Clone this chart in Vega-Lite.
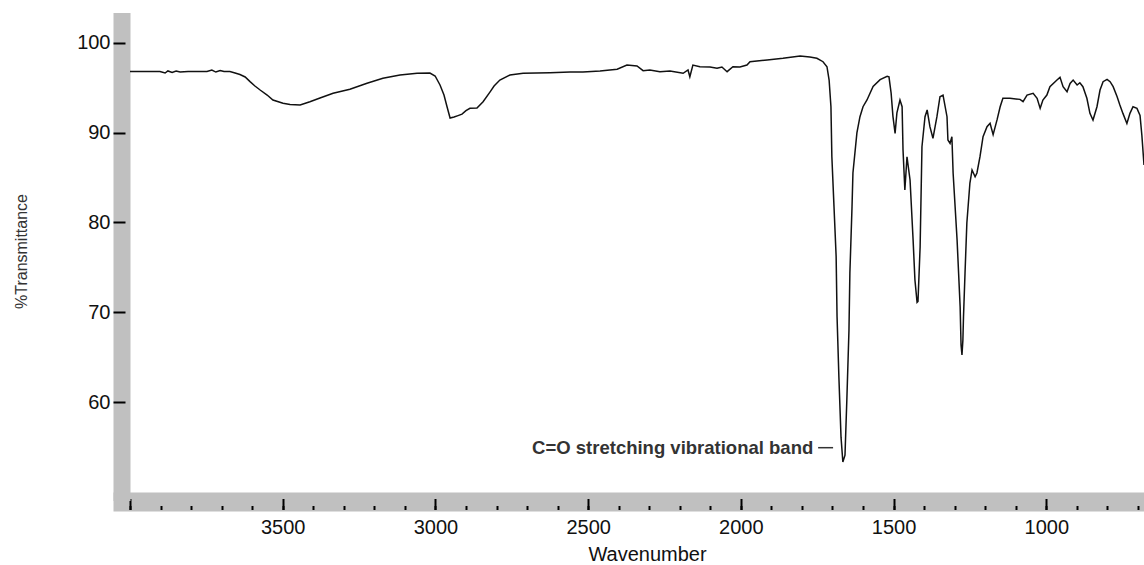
{
  "$schema": "https://vega.github.io/schema/vega-lite/v6.json",
  "width": 1031,
  "height": 471,
  "autosize": {"type": "none"},
  "padding": {"left": 113, "top": 21, "right": 0, "bottom": 73},
  "background": "white",
  "config": {"view": {"stroke": null}},
  "datasets": {
    "spectrum": [
      {"w": 4000, "t": 96.79}, {"w": 3951, "t": 96.8}, {"w": 3902, "t": 96.8}, {"w": 3885, "t": 96.62},
      {"w": 3876, "t": 96.85}, {"w": 3862, "t": 96.68}, {"w": 3849, "t": 96.85}, {"w": 3836, "t": 96.73},
      {"w": 3810, "t": 96.79}, {"w": 3771, "t": 96.79}, {"w": 3748, "t": 96.79}, {"w": 3732, "t": 96.96},
      {"w": 3719, "t": 96.73}, {"w": 3705, "t": 96.9}, {"w": 3692, "t": 96.79}, {"w": 3673, "t": 96.79},
      {"w": 3656, "t": 96.62}, {"w": 3640, "t": 96.45}, {"w": 3623, "t": 96.18}, {"w": 3607, "t": 95.66},
      {"w": 3591, "t": 95.18}, {"w": 3574, "t": 94.73}, {"w": 3551, "t": 94.17}, {"w": 3532, "t": 93.62},
      {"w": 3499, "t": 93.25}, {"w": 3476, "t": 93.12}, {"w": 3443, "t": 93.06}, {"w": 3411, "t": 93.43},
      {"w": 3378, "t": 93.84}, {"w": 3335, "t": 94.36}, {"w": 3280, "t": 94.81}, {"w": 3224, "t": 95.48},
      {"w": 3172, "t": 96.03}, {"w": 3116, "t": 96.4}, {"w": 3060, "t": 96.59}, {"w": 3018, "t": 96.62},
      {"w": 3001, "t": 96.29}, {"w": 2985, "t": 95.29}, {"w": 2972, "t": 94.17}, {"w": 2962, "t": 92.87},
      {"w": 2952, "t": 91.61}, {"w": 2939, "t": 91.72}, {"w": 2926, "t": 91.88}, {"w": 2913, "t": 92.05},
      {"w": 2900, "t": 92.44}, {"w": 2887, "t": 92.69}, {"w": 2864, "t": 92.72}, {"w": 2844, "t": 93.42},
      {"w": 2821, "t": 94.53}, {"w": 2808, "t": 95.18}, {"w": 2789, "t": 95.84}, {"w": 2756, "t": 96.4},
      {"w": 2713, "t": 96.59}, {"w": 2625, "t": 96.66}, {"w": 2559, "t": 96.73}, {"w": 2517, "t": 96.73},
      {"w": 2461, "t": 96.85}, {"w": 2405, "t": 97.04}, {"w": 2373, "t": 97.51}, {"w": 2340, "t": 97.4},
      {"w": 2320, "t": 96.88}, {"w": 2298, "t": 96.96}, {"w": 2265, "t": 96.77}, {"w": 2232, "t": 96.85},
      {"w": 2189, "t": 96.59}, {"w": 2173, "t": 96.96}, {"w": 2167, "t": 96.21}, {"w": 2157, "t": 97.51},
      {"w": 2134, "t": 97.32}, {"w": 2101, "t": 97.29}, {"w": 2078, "t": 97.15}, {"w": 2062, "t": 97.29},
      {"w": 2045, "t": 96.77}, {"w": 2026, "t": 97.32}, {"w": 2003, "t": 97.29}, {"w": 1980, "t": 97.51},
      {"w": 1970, "t": 97.88}, {"w": 1914, "t": 98.07}, {"w": 1862, "t": 98.26}, {"w": 1806, "t": 98.52},
      {"w": 1774, "t": 98.4}, {"w": 1751, "t": 98.26}, {"w": 1731, "t": 97.88}, {"w": 1718, "t": 97.32},
      {"w": 1711, "t": 95.84}, {"w": 1705, "t": 92.87}, {"w": 1702, "t": 87.31}, {"w": 1695, "t": 81.75},
      {"w": 1688, "t": 76.19}, {"w": 1685, "t": 69.51}, {"w": 1679, "t": 62.8}, {"w": 1672, "t": 56.1},
      {"w": 1666, "t": 53.34}, {"w": 1659, "t": 54.1}, {"w": 1653, "t": 60.2}, {"w": 1646, "t": 68.0},
      {"w": 1643, "t": 74.37}, {"w": 1636, "t": 81.75}, {"w": 1633, "t": 85.5}, {"w": 1620, "t": 89.95},
      {"w": 1610, "t": 91.76}, {"w": 1600, "t": 92.87}, {"w": 1587, "t": 93.62}, {"w": 1567, "t": 95.12},
      {"w": 1544, "t": 95.88}, {"w": 1521, "t": 96.25}, {"w": 1515, "t": 96.2}, {"w": 1508, "t": 94.4},
      {"w": 1502, "t": 91.8}, {"w": 1495, "t": 89.91}, {"w": 1489, "t": 92.2}, {"w": 1479, "t": 93.62},
      {"w": 1472, "t": 92.87}, {"w": 1469, "t": 88.06}, {"w": 1463, "t": 83.6}, {"w": 1456, "t": 87.3},
      {"w": 1446, "t": 84.72}, {"w": 1436, "t": 78.04}, {"w": 1430, "t": 73.59}, {"w": 1423, "t": 71.1},
      {"w": 1420, "t": 71.2}, {"w": 1413, "t": 77.3}, {"w": 1407, "t": 88.42}, {"w": 1397, "t": 91.76},
      {"w": 1390, "t": 92.51}, {"w": 1381, "t": 90.65}, {"w": 1371, "t": 89.36}, {"w": 1358, "t": 91.76},
      {"w": 1348, "t": 93.98}, {"w": 1338, "t": 94.16}, {"w": 1325, "t": 91.76}, {"w": 1322, "t": 89.17},
      {"w": 1315, "t": 88.8}, {"w": 1309, "t": 89.54}, {"w": 1305, "t": 85.5}, {"w": 1292, "t": 78.04},
      {"w": 1282, "t": 70.62}, {"w": 1279, "t": 66.36}, {"w": 1276, "t": 65.25}, {"w": 1273, "t": 66.9},
      {"w": 1271, "t": 69.5}, {"w": 1266, "t": 74.37}, {"w": 1260, "t": 79.93}, {"w": 1250, "t": 84.38},
      {"w": 1243, "t": 85.83}, {"w": 1233, "t": 85.08}, {"w": 1227, "t": 85.5}, {"w": 1217, "t": 87.31},
      {"w": 1207, "t": 89.54}, {"w": 1194, "t": 90.65}, {"w": 1184, "t": 91.03}, {"w": 1174, "t": 89.76},
      {"w": 1161, "t": 91.43}, {"w": 1151, "t": 92.87}, {"w": 1142, "t": 93.81}, {"w": 1119, "t": 93.81},
      {"w": 1086, "t": 93.69}, {"w": 1076, "t": 93.43}, {"w": 1063, "t": 94.17}, {"w": 1043, "t": 94.36},
      {"w": 1030, "t": 93.81}, {"w": 1020, "t": 92.69}, {"w": 1011, "t": 93.62}, {"w": 998, "t": 94.17},
      {"w": 988, "t": 95.1}, {"w": 965, "t": 95.84}, {"w": 955, "t": 96.14}, {"w": 945, "t": 95.1},
      {"w": 932, "t": 94.54}, {"w": 922, "t": 95.47}, {"w": 912, "t": 95.84}, {"w": 899, "t": 95.29},
      {"w": 890, "t": 95.54}, {"w": 880, "t": 95.1}, {"w": 867, "t": 93.81}, {"w": 857, "t": 92.13},
      {"w": 847, "t": 91.39}, {"w": 834, "t": 92.87}, {"w": 824, "t": 94.73}, {"w": 814, "t": 95.66},
      {"w": 801, "t": 95.92}, {"w": 791, "t": 95.66}, {"w": 781, "t": 95.1}, {"w": 768, "t": 93.98},
      {"w": 759, "t": 93.06}, {"w": 749, "t": 92.13}, {"w": 736, "t": 91.01}, {"w": 726, "t": 92.13},
      {"w": 716, "t": 92.87}, {"w": 703, "t": 92.69}, {"w": 693, "t": 91.91}, {"w": 687, "t": 89.7},
      {"w": 680, "t": 86.4}
    ],
    "notes": [
      {"label": "C=O stretching vibrational band", "w": 1763, "t": 54.23}
    ]
  },
  "layer": [
    {
      "data": {"name": "spectrum"},
      "mark": {"type": "line", "color": "#111111", "strokeWidth": 1.5},
      "encoding": {
        "x": {
          "field": "w", "type": "quantitative",
          "scale": {"domain": [680, 4055.7], "reverse": true, "nice": false, "zero": false},
          "axis": {
            "orient": "bottom", "offset": 9.5, "grid": false,
            "domainColor": "#c0c0c0", "domainWidth": 19, "domainCap": "butt",
            "ticks": false,
            "values": [1000, 1500, 2000, 2500, 3000, 3500], "format": "d",
            "labelFont": "Liberation Sans", "labelFontSize": 20, "labelColor": "#111111",
            "labelPadding": 16, "labelBaseline": "top", "labelFlush": false, "labelOverlap": false,
            "title": "Wavenumber", "titleFont": "Liberation Sans", "titleFontSize": 20,
            "titleFontWeight": "normal", "titleColor": "#111111",
            "titleX": 534, "titleY": 59, "titleBaseline": "alphabetic", "titleAlign": "center"
          }
        },
        "y": {
          "field": "t", "type": "quantitative",
          "scale": {"domain": [50, 102.41], "nice": false, "zero": false},
          "axis": {
            "orient": "left", "offset": -8.5, "grid": false,
            "domainColor": "#c0c0c0", "domainWidth": 17, "domainCap": "square",
            "ticks": false, "labels": false,
            "title": "%Transmittance", "titleFont": "Liberation Sans", "titleFontSize": 16,
            "titleFontWeight": "normal", "titleColor": "#333333",
            "titleX": -94.8, "titleY": 230, "titleAngle": 270, "titleBaseline": "alphabetic", "titleAlign": "center"
          }
        }
      }
    },
    {
      "data": {"name": "notes"},
      "mark": {"type": "text", "align": "right", "baseline": "alphabetic", "font": "Liberation Sans", "fontSize": 18.5, "fontWeight": "bold", "color": "#333333"},
      "encoding": {
        "text": {"field": "label"},
        "x": {
          "field": "w", "type": "quantitative",
          "axis": {
            "orient": "bottom", "offset": 17.5, "domain": false, "grid": false,
            "values": [700, 800, 900, 1000, 1100, 1200, 1300, 1400, 1500, 1600, 1700, 1800, 1900, 2000, 2100, 2200, 2300, 2400, 2500, 2600, 2700, 2800, 2900, 3000, 3100, 3200, 3300, 3400, 3500, 3600, 3700, 3800, 3900, 4000],
            "tickSize": -4, "tickWidth": 2, "tickColor": "#000000",
            "labels": false, "title": null
          }
        },
        "y": {
          "field": "t", "type": "quantitative",
          "axis": {
            "orient": "left", "offset": -12, "domain": false, "grid": false,
            "values": [60, 70, 80, 90, 100],
            "tickSize": 12, "tickWidth": 2, "tickColor": "#000000",
            "labelFont": "Liberation Sans", "labelFontSize": 20, "labelColor": "#111111",
            "labelPadding": 3, "title": null
          }
        }
      }
    },
    {
      "data": {"values": [{}]},
      "mark": {"type": "rule", "color": "#333333", "strokeWidth": 1.5},
      "encoding": {
        "x": {
          "datum": 1747, "type": "quantitative",
          "axis": {
            "orient": "bottom", "offset": 17.5, "domain": false, "grid": false,
            "values": [1000, 1500, 2000, 2500, 3000, 3500, 4000],
            "tickSize": -11, "tickWidth": 2, "tickColor": "#000000",
            "labels": false, "title": null
          }
        },
        "x2": {"datum": 1698},
        "y": {"datum": 54.93, "type": "quantitative", "axis": null}
      }
    }
  ],
  "resolve": {"axis": {"x": "independent", "y": "independent"}}
}
